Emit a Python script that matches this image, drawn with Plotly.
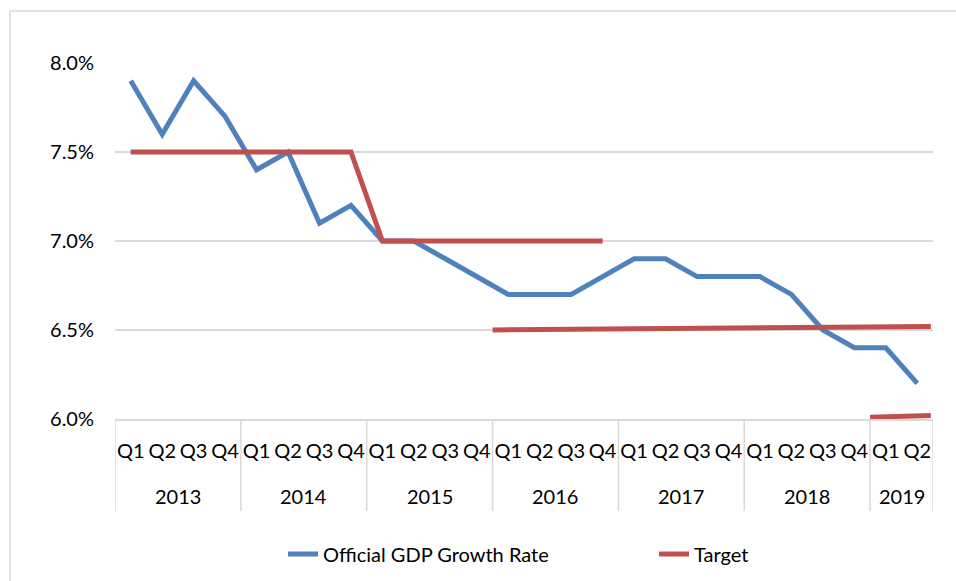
import plotly.graph_objects as go

# ---- data ----
years = ["2013", "2014", "2015", "2016", "2017", "2018", "2019"]
quarters_per_year = [4, 4, 4, 4, 4, 4, 2]
quarter_labels = ["Q1", "Q2", "Q3", "Q4"]
gdp_growth = [7.9, 7.6, 7.9, 7.7,
              7.4, 7.5, 7.1, 7.2,
              7.0, 7.0, 6.9, 6.8,
              6.7, 6.7, 6.7, 6.8,
              6.9, 6.9, 6.8, 6.8,
              6.8, 6.7, 6.5, 6.4,
              6.4, 6.2]
# target segments (x in quarter-index units)
target_seg1_x = list(range(16))
target_seg1_y = [7.5] * 8 + [7.0] * 8
target_seg2_x = [11.5, 25.43]
target_seg2_y = [6.50, 6.52]
target_seg3_x = [23.5, 25.43]
target_seg3_y = [6.01, 6.02]
y_ticks = [6.0, 6.5, 7.0, 7.5, 8.0]
y_tick_labels = ["6.0%", "6.5%", "7.0%", "7.5%", "8.0%"]

# ---- derived ----
x_idx = list(range(len(gdp_growth)))
tick_text = []
for n in quarters_per_year:
    tick_text += quarter_labels[:n]

tx = target_seg1_x + [None] + target_seg2_x + [None] + target_seg3_x
ty = target_seg1_y + [None] + target_seg2_y + [None] + target_seg3_y

W, H = 956, 581
ML, MR, MT, MB = 115, 23, 63, 162
pw, ph = W - ML - MR, H - MT - MB

def px_x(p):
    return (p - ML) / pw

def px_y(p):
    return (H - MB - p) / ph

FONT = "Lato"
BLUE = "#4F81BD"
RED = "#C0504D"
GRID = "#D9D9D9"

fig = go.Figure()
fig.add_trace(go.Scatter(x=x_idx, y=gdp_growth, mode="lines",
                         name="Official GDP Growth Rate",
                         line=dict(color=BLUE, width=5)))
fig.add_trace(go.Scatter(x=tx, y=ty, mode="lines", name="Target",
                         connectgaps=False,
                         line=dict(color=RED, width=5)))

shapes = []
annotations = []
start = -0.5
bounds = [start]
for yr, n in zip(years, quarters_per_year):
    end = start + n
    bounds.append(end)
    annotations.append(dict(x=(start + end) / 2, y=px_y(496), xref="x", yref="paper",
                            text=yr, showarrow=False, yanchor="middle",
                            font=dict(family=FONT, size=20, color="#000000")))
    start = end
for b in bounds:
    shapes.append(dict(type="line", xref="x", yref="paper", x0=b, x1=b,
                       y0=0, y1=px_y(511), line=dict(color=GRID, width=1.5)))
shapes.append(dict(type="rect", xref="paper", yref="paper",
                   x0=px_x(10), x1=px_x(975), y0=px_y(600), y1=px_y(11),
                   line=dict(color=GRID, width=1.5), fillcolor="rgba(0,0,0,0)",
                   layer="below"))

fig.update_layout(
    width=W, height=H,
    margin=dict(l=ML, r=MR, t=MT, b=MB, autoexpand=False),
    paper_bgcolor="white", plot_bgcolor="white",
    font=dict(family=FONT, size=20, color="#000000"),
    showlegend=True,
    legend=dict(orientation="h", x=px_x(283), xanchor="left", y=px_y(554), yanchor="middle",
                font=dict(family=FONT, size=20), entrywidth=326, entrywidthmode="pixels"),
    shapes=shapes,
    annotations=annotations,
    xaxis=dict(range=[-0.5, 25.5], tickmode="array", tickvals=x_idx, ticktext=tick_text,
               showgrid=False, zeroline=False, showline=True, linecolor=GRID, linewidth=1.5,
               ticks="", ticklabelstandoff=13, fixedrange=True),
    yaxis=dict(range=[6.0, 8.0], tickmode="array", tickvals=y_ticks, ticktext=y_tick_labels,
               showgrid=True, gridcolor=GRID,
               gridwidth=1.5, zeroline=False, showline=False, ticks="",
               ticklabelstandoff=20, fixedrange=True),
)

fig.write_html("out.html", config={"displayModeBar": False},
               post_script="document.body.style.margin='0px';")
